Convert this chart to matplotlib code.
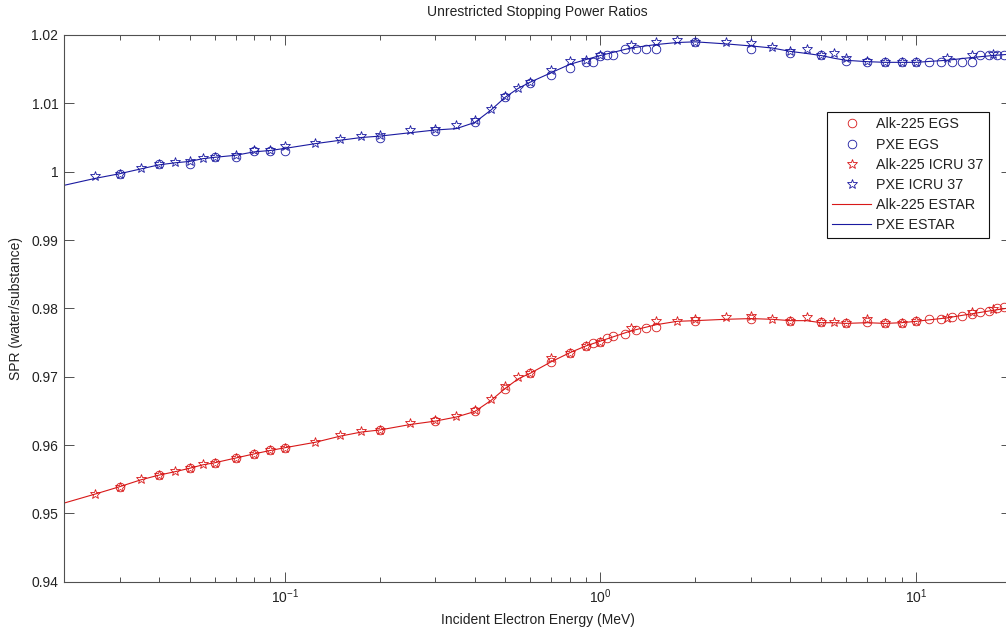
import numpy as np
import matplotlib
matplotlib.use("Agg")
import matplotlib.pyplot as plt
from matplotlib.ticker import FuncFormatter, LogLocator, NullFormatter
from matplotlib.lines import Line2D

plt.rcParams['font.family'] = ['Liberation Sans', 'DejaVu Sans']
plt.rcParams['mathtext.fontset'] = 'custom'
plt.rcParams['mathtext.rm'] = 'Liberation Sans'
plt.rcParams['mathtext.it'] = 'Liberation Sans'
plt.rcParams['mathtext.bf'] = 'Liberation Sans'

# ---- energies (MeV) ----
energy_egs = [0.03, 0.04, 0.05, 0.06, 0.07, 0.08, 0.09, 0.1, 0.2, 0.3, 0.4,
              0.5, 0.6, 0.7, 0.8, 0.9, 0.95, 1.0, 1.05, 1.1, 1.2, 1.3, 1.4,
              1.5, 2, 3, 4, 5, 6, 7, 8, 9, 10, 11, 12, 13, 14, 15, 16, 17,
              18, 19, 20]
energy_icru = [0.025, 0.03, 0.035, 0.04, 0.045, 0.05, 0.055, 0.06, 0.07, 0.08,
               0.09, 0.1, 0.125, 0.15, 0.175, 0.2, 0.25, 0.3, 0.35, 0.4, 0.45,
               0.5, 0.55, 0.6, 0.7, 0.8, 0.9, 1.0, 1.25, 1.5, 1.75, 2.0, 2.5,
               3.0, 3.5, 4.0, 4.5, 5.0, 5.5, 6.0, 7.0, 8.0, 9.0, 10.0, 12.5,
               15.0, 17.5, 20.0]
energy_estar = [0.02] + energy_icru

# ---- Alk-225 stopping power ratios ----
alk_egs = [0.9539, 0.9556, 0.9566, 0.9574, 0.9581, 0.9587, 0.9592, 0.9596,
           0.9622, 0.9635, 0.9650, 0.9682, 0.9705, 0.9722, 0.9735, 0.9745,
           0.9749, 0.9751, 0.9756, 0.9759, 0.9762, 0.9768, 0.9771, 0.9773,
           0.9782, 0.9784, 0.9782, 0.9780, 0.9778, 0.9780, 0.9778, 0.9778,
           0.9781, 0.9784, 0.9785, 0.9787, 0.9789, 0.9792, 0.9794, 0.9796,
           0.9800, 0.9802, 0.9804]
alk_icru = [0.9529, 0.9539, 0.9550, 0.9556, 0.9562, 0.9566, 0.9572, 0.9574,
            0.9581, 0.9587, 0.9592, 0.9596, 0.9605, 0.9615, 0.9621, 0.9622,
            0.9632, 0.9636, 0.9643, 0.9651, 0.9667, 0.9687, 0.9700, 0.9705,
            0.9727, 0.9735, 0.9745, 0.9751, 0.9771, 0.9782, 0.9782, 0.9785,
            0.9788, 0.9789, 0.9785, 0.9782, 0.9788, 0.9780, 0.9780, 0.9779,
            0.9784, 0.9779, 0.9779, 0.9781, 0.9786, 0.9794, 0.9799, 0.9803]
alk_estar = [0.9515, 0.9528, 0.9539, 0.9549, 0.9556, 0.9561, 0.9566, 0.9571,
             0.9574, 0.9581, 0.9587, 0.9592, 0.9596, 0.9604, 0.9613, 0.9619,
             0.9622, 0.9630, 0.9635, 0.9641, 0.9649, 0.9665, 0.9683, 0.9697,
             0.9705, 0.9722, 0.9735, 0.9745, 0.9752, 0.9767, 0.9776, 0.9781,
             0.9782, 0.9784, 0.9785, 0.9784, 0.9782, 0.9782, 0.9779, 0.9779,
             0.9778, 0.9779, 0.9778, 0.9779, 0.9781, 0.9786, 0.9792, 0.9797,
             0.9801]

# ---- PXE stopping power ratios ----
pxe_egs = [0.9996, 1.0011, 1.0011, 1.0021, 1.0021, 1.0030, 1.0030, 1.0030,
           1.0050, 1.0060, 1.0072, 1.0110, 1.0130, 1.0142, 1.0151, 1.0160,
           1.0160, 1.0170, 1.0171, 1.0171, 1.0180, 1.0180, 1.0180, 1.0180,
           1.0190, 1.0180, 1.0173, 1.0171, 1.0162, 1.0161, 1.0160, 1.0160,
           1.0160, 1.0160, 1.0160, 1.0160, 1.0160, 1.0160, 1.0171, 1.0171,
           1.0171, 1.0171, 1.0171]
pxe_icru = [0.9993, 0.9997, 1.0005, 1.0011, 1.0014, 1.0015, 1.0020, 1.0022,
            1.0025, 1.0031, 1.0031, 1.0038, 1.0042, 1.0048, 1.0052, 1.0053,
            1.0061, 1.0062, 1.0068, 1.0075, 1.0092, 1.0111, 1.0123, 1.0131,
            1.0149, 1.0162, 1.0163, 1.0171, 1.0185, 1.0190, 1.0192, 1.0190,
            1.0190, 1.0189, 1.0182, 1.0176, 1.0179, 1.0171, 1.0173, 1.0166,
            1.0162, 1.0161, 1.0161, 1.0161, 1.0166, 1.0171, 1.0172, 1.0172]
pxe_estar = [0.9980, 0.9990, 0.9997, 1.0004, 1.0010, 1.0013, 1.0015, 1.0019,
             1.0021, 1.0024, 1.0029, 1.0031, 1.0034, 1.0041, 1.0046, 1.0050,
             1.0052, 1.0057, 1.0061, 1.0063, 1.0072, 1.0090, 1.0109, 1.0122,
             1.0131, 1.0145, 1.0157, 1.0164, 1.0170, 1.0181, 1.0186, 1.0189,
             1.0190, 1.0187, 1.0184, 1.0181, 1.0176, 1.0173, 1.0170, 1.0166,
             1.0163, 1.0161, 1.0160, 1.0160, 1.0160, 1.0163, 1.0167, 1.0170,
             1.0172]

y_ticks = [0.94, 0.95, 0.96, 0.97, 0.98, 0.99, 1.0, 1.01, 1.02]

RED = '#d81818'
BLUE = '#1a1aa0'
TEXT = '#222222'
EDGE = '#505050'

W, H = 1006, 631
fig = plt.figure(figsize=(W / 100, H / 100), dpi=100)
fig.patch.set_facecolor('white')
ax = fig.add_axes([64 / W, 49.3 / H, 947 / W, 546.7 / H])

ms_circle = 6.2
ms_star = 7.2
mew = 0.6

ax.plot(energy_egs, alk_egs, linestyle='none', marker='o', ms=ms_circle,
        mfc='none', mec=RED, mew=mew)
ax.plot(energy_egs, pxe_egs, linestyle='none', marker='o', ms=ms_circle,
        mfc='none', mec=BLUE, mew=mew)
ax.plot(energy_icru, alk_icru, linestyle='none', marker='*', ms=ms_star,
        mfc='none', mec=RED, mew=mew)
ax.plot(energy_icru, pxe_icru, linestyle='none', marker='*', ms=ms_star,
        mfc='none', mec=BLUE, mew=mew)
ax.plot(energy_estar, alk_estar, color=RED, lw=0.8)
ax.plot(energy_estar, pxe_estar, color=BLUE, lw=0.8)

ax.set_xscale('log')
ax.set_xlim(0.02, 20)
ax.set_ylim(0.94, 1.02)
ax.set_yticks(y_ticks)
ax.yaxis.set_major_formatter(FuncFormatter(lambda v, p: f'{v:g}'))
ax.xaxis.set_major_locator(LogLocator(base=10, numticks=10))
ax.xaxis.set_minor_locator(LogLocator(base=10, subs=np.arange(2, 10), numticks=20))
ax.xaxis.set_minor_formatter(NullFormatter())

for s in ax.spines.values():
    s.set_color(EDGE)
    s.set_linewidth(0.8)
ax.tick_params(which='both', direction='in', top=True, right=True,
               colors=EDGE, labelcolor=TEXT, labelsize=10, width=0.7)
ax.tick_params(which='major', length=7, pad=4)
ax.tick_params(which='minor', length=3.6)

ax.set_title('Unrestricted Stopping Power Ratios', fontsize=10, color=TEXT, pad=14)
ax.set_xlabel('Incident Electron Energy (MeV)', fontsize=10, color=TEXT, labelpad=5)
ax.set_ylabel('SPR (water/substance)', fontsize=10, color=TEXT, labelpad=6)

handles = [
    Line2D([], [], linestyle='none', marker='o', ms=ms_circle, mfc='none', mec=RED, mew=mew),
    Line2D([], [], linestyle='none', marker='o', ms=ms_circle, mfc='none', mec=BLUE, mew=mew),
    Line2D([], [], linestyle='none', marker='*', ms=ms_star, mfc='none', mec=RED, mew=mew),
    Line2D([], [], linestyle='none', marker='*', ms=ms_star, mfc='none', mec=BLUE, mew=mew),
    Line2D([], [], color=RED, lw=0.8),
    Line2D([], [], color=BLUE, lw=0.8),
]
labels = ['Alk-225 EGS', 'PXE EGS', 'Alk-225 ICRU 37', 'PXE ICRU 37',
          'Alk-225 ESTAR', 'PXE ESTAR']
leg = ax.legend(handles, labels, loc='upper left',
                bbox_to_anchor=(827 / W, 1 - 112 / H),
                bbox_transform=fig.transFigure, borderaxespad=0,
                fancybox=False, framealpha=1, edgecolor='#111111',
                fontsize=10.3, handlelength=2.7, handletextpad=0.35,
                labelspacing=0.43, borderpad=0.38, numpoints=1)
leg.get_frame().set_linewidth(0.8)
for t in leg.get_texts():
    t.set_color(TEXT)

fig.savefig('out.png', dpi=100, facecolor='white')
